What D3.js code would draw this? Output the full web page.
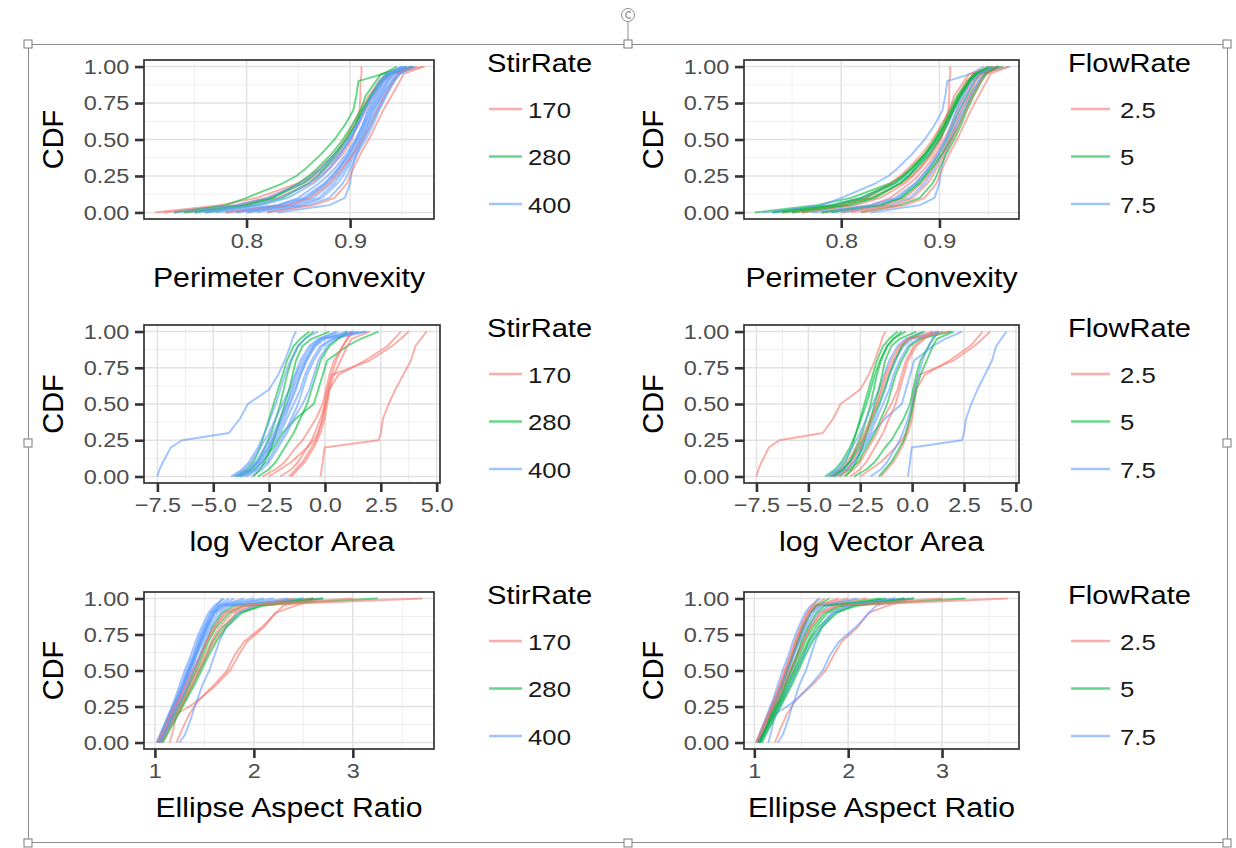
<!DOCTYPE html>
<html><head><meta charset="utf-8">
<script src="https://cdn.jsdelivr.net/npm/d3@7"></script>
<style>
body{margin:0;background:#fff}
text{font-family:"Liberation Sans",Arial,Helvetica,sans-serif}
</style>
</head><body>
<svg id="chart" width="1236" height="848"></svg>
<script>
// ---------------- data ----------------
const cdfLevels = [0, 0.05, 0.1, 0.2, 0.25, 0.3, 0.4, 0.5, 0.6, 0.7, 0.8, 0.9, 0.95, 1];
const stirRates = [170, 280, 400];
const flowRates = [2.5, 5, 7.5];
const stirLabels = ["170", "280", "400"];
const flowLabels = ["2.5", "5", "7.5"];
const groupColors = ["#F8766D", "#00BA38", "#619CFF"];

const yTicks = [0, 0.25, 0.5, 0.75, 1];
const yTickLabels = ["0.00", "0.25", "0.50", "0.75", "1.00"];
const yMinor = [0.125, 0.375, 0.625, 0.875];

const convexityTicks = [0.8, 0.9];
const convexityTickLabels = ["0.8", "0.9"];
const convexityMinor = [0.75, 0.85, 0.95];
const areaTicks = [-7.5, -5, -2.5, 0, 2.5, 5];
const areaTickLabels = ["\u22127.5", "\u22125.0", "\u22122.5", "0.0", "2.5", "5.0"];
const areaMinor = [-6.25, -3.75, -1.25, 1.25, 3.75];
const aspectTicks = [1, 2, 3];
const aspectTickLabels = ["1", "2", "3"];
const aspectMinor = [1.5, 2.5, 3.5];

// Perimeter Convexity: x value of each sample's CDF at cdfLevels
const convexityStir = [170,170,170,280,280,280,400,400,400,400,400,400,400,170,280,400,400,170,400,400,400];
const convexityFlow = [5,7.5,2.5,7.5,2.5,5,2.5,5,7.5,7.5,5,2.5,7.5,2.5,5,5,2.5,5,5,2.5,7.5];
const convexityQuantiles = [
  [0.712,0.775,0.81,0.85,0.862,0.87,0.885,0.895,0.903,0.91,0.918,0.928,0.935,0.965],
  [0.72,0.79,0.82,0.855,0.867,0.875,0.889,0.9,0.908,0.915,0.922,0.932,0.94,0.972],
  [0.74,0.80,0.83,0.862,0.872,0.88,0.893,0.902,0.906,0.909,0.91,0.91,0.911,0.911],
  [0.73,0.78,0.80,0.835,0.848,0.857,0.872,0.885,0.895,0.903,0.906,0.908,0.932,0.945],
  [0.75,0.80,0.825,0.85,0.86,0.868,0.882,0.893,0.902,0.91,0.915,0.925,0.93,0.955],
  [0.76,0.81,0.835,0.86,0.869,0.875,0.887,0.897,0.905,0.912,0.92,0.93,0.935,0.96],
  [0.78,0.83,0.85,0.87,0.878,0.885,0.896,0.905,0.912,0.918,0.925,0.933,0.94,0.955],
  [0.79,0.84,0.86,0.878,0.885,0.89,0.9,0.908,0.914,0.92,0.928,0.936,0.942,0.96],
  [0.80,0.85,0.87,0.885,0.89,0.895,0.903,0.91,0.917,0.923,0.93,0.94,0.945,0.962],
  [0.83,0.88,0.895,0.90,0.901,0.902,0.906,0.912,0.918,0.925,0.932,0.94,0.947,0.958],
  [0.82,0.86,0.88,0.893,0.897,0.90,0.907,0.915,0.922,0.928,0.935,0.943,0.948,0.96],
  [0.76,0.815,0.84,0.865,0.873,0.88,0.891,0.9,0.907,0.913,0.92,0.928,0.935,0.95],
  [0.77,0.83,0.855,0.875,0.882,0.888,0.898,0.906,0.912,0.917,0.924,0.932,0.938,0.952],
  [0.82,0.865,0.885,0.897,0.9,0.903,0.91,0.918,0.925,0.932,0.94,0.948,0.952,0.97],
  [0.74,0.795,0.825,0.855,0.864,0.872,0.885,0.896,0.905,0.912,0.92,0.93,0.938,0.96],
  [0.73,0.79,0.82,0.852,0.863,0.872,0.886,0.898,0.906,0.914,0.921,0.93,0.936,0.95],
  [0.80,0.845,0.865,0.882,0.888,0.893,0.902,0.91,0.916,0.922,0.93,0.937,0.943,0.958],
  [0.78,0.84,0.862,0.88,0.886,0.892,0.903,0.912,0.92,0.926,0.933,0.942,0.946,0.96],
  [0.75,0.805,0.832,0.86,0.869,0.877,0.89,0.9,0.908,0.914,0.922,0.931,0.937,0.953],
  [0.81,0.855,0.873,0.888,0.893,0.897,0.905,0.913,0.92,0.927,0.934,0.942,0.948,0.963],
  [0.79,0.835,0.858,0.876,0.883,0.889,0.899,0.907,0.914,0.92,0.927,0.935,0.94,0.955]
];

// log Vector Area
const areaStir = [400,170,170,170,280,280,280,400,400,400,400,400,400,170,170,280,400,170,400,280,400];
const areaFlow = [2.5,7.5,2.5,2.5,5,7.5,5,5,7.5,2.5,7.5,5,2.5,5,7.5,2.5,7.5,5,5,5,2.5];
const areaQuantiles = [
  [-7.5,-7.4,-7.25,-6.9,-6.4,-4.3,-3.8,-3.45,-2.5,-2.1,-1.8,-1.55,-1.45,-1.3],
  [-0.2,-0.15,-0.1,-0.02,2.4,2.5,2.6,2.85,3.15,3.5,3.85,4.05,4.3,4.55],
  [-1.5,-1.2,-0.9,-0.5,-0.35,-0.2,0.0,0.1,0.2,0.6,1.8,2.8,3.1,3.4],
  [-2.5,-2.0,-1.5,-0.8,-0.5,-0.3,-0.1,0.0,0.1,0.3,2.0,3.0,3.4,3.75],
  [-3.9,-3.3,-3.0,-2.7,-2.55,-2.4,-2.2,-2.0,-1.85,-1.7,-1.5,-1.2,-0.9,-0.5],
  [-3.8,-3.2,-2.8,-2.3,-2.1,-1.9,-1.3,-0.5,-0.3,-0.1,0.1,1.0,1.6,2.4],
  [-4.0,-3.5,-3.2,-2.9,-2.8,-2.7,-2.5,-2.3,-2.1,-1.9,-1.7,-1.4,-1.1,-0.7],
  [-4.2,-3.7,-3.4,-3.0,-2.85,-2.7,-2.45,-2.2,-2.0,-1.8,-1.55,-1.2,-0.9,-0.3],
  [-4.1,-3.6,-3.3,-2.9,-2.7,-2.5,-2.2,-1.9,-1.6,-1.35,-1.1,-0.7,-0.3,0.5],
  [-3.9,-3.4,-3.1,-2.7,-2.5,-2.3,-2.0,-1.7,-1.45,-1.2,-0.9,-0.5,-0.1,1.0],
  [-3.7,-3.1,-2.8,-2.4,-2.2,-2.0,-1.7,-1.4,-1.1,-0.9,-0.6,-0.2,0.3,1.5],
  [-3.5,-3.0,-2.6,-2.2,-2.0,-1.8,-1.5,-1.2,-1.0,-0.8,-0.5,-0.1,0.4,1.9],
  [-3.3,-2.8,-2.5,-2.1,-1.9,-1.7,-1.4,-1.0,-0.7,-0.5,-0.3,0.1,0.5,1.2],
  [-2.8,-2.2,-1.8,-1.3,-1.0,-0.8,-0.4,-0.1,0.05,0.2,0.4,0.8,1.0,1.3],
  [-2.0,-1.5,-1.2,-0.8,-0.6,-0.45,-0.2,0.0,0.15,0.3,0.5,0.8,1.0,1.2],
  [-3.0,-2.5,-2.2,-1.8,-1.6,-1.4,-1.1,-0.8,-0.6,-0.4,-0.2,0.2,0.6,1.0],
  [-4.0,-3.4,-3.0,-2.5,-2.3,-2.1,-1.8,-1.55,-1.3,-1.1,-0.85,-0.4,0.0,1.3],
  [-1.6,-1.3,-1.0,-0.6,-0.4,-0.3,-0.1,0.05,0.2,0.4,0.7,1.0,1.2,2.0],
  [-3.8,-3.3,-3.0,-2.6,-2.4,-2.2,-1.9,-1.6,-1.35,-1.1,-0.8,-0.5,-0.2,0.6],
  [-3.2,-2.9,-2.7,-2.4,-2.3,-2.2,-2.0,-1.8,-1.6,-1.45,-1.3,-1.0,-0.6,0.2],
  [-3.6,-3.1,-2.9,-2.5,-2.35,-2.2,-1.95,-1.7,-1.5,-1.3,-1.0,-0.6,-0.2,1.8]
];

// Ellipse Aspect Ratio
const aspectStir = [170,170,400,400,400,400,400,400,280,280,280,170,170,170,400,400,400,280,400,170,400];
const aspectFlow = [2.5,7.5,2.5,7.5,2.5,2.5,7.5,2.5,5,7.5,5,2.5,5,7.5,2.5,7.5,5,5,7.5,2.5,5];
const aspectQuantiles = [
  [1.22,1.25,1.28,1.35,1.4,1.45,1.62,1.76,1.84,1.93,2.1,2.22,2.42,2.65],
  [1.15,1.17,1.19,1.22,1.35,1.45,1.6,1.73,1.8,1.9,2.08,2.22,2.3,2.6],
  [1.03,1.06,1.09,1.15,1.18,1.21,1.27,1.32,1.38,1.43,1.49,1.56,1.62,1.68],
  [1.02,1.05,1.08,1.14,1.17,1.2,1.25,1.3,1.36,1.41,1.47,1.54,1.6,1.7],
  [1.05,1.08,1.11,1.17,1.2,1.23,1.29,1.34,1.4,1.45,1.51,1.58,1.63,1.75],
  [1.04,1.07,1.1,1.16,1.19,1.22,1.28,1.33,1.39,1.44,1.5,1.57,1.65,2.0],
  [1.06,1.09,1.12,1.18,1.21,1.25,1.31,1.37,1.42,1.48,1.55,1.63,1.72,2.7],
  [1.03,1.07,1.1,1.17,1.2,1.24,1.3,1.36,1.41,1.47,1.53,1.6,1.68,2.2],
  [1.05,1.09,1.13,1.2,1.24,1.28,1.35,1.42,1.48,1.54,1.62,1.75,1.9,3.25],
  [1.04,1.08,1.12,1.19,1.23,1.27,1.34,1.4,1.46,1.52,1.58,1.68,1.8,2.5],
  [1.06,1.1,1.14,1.22,1.26,1.3,1.38,1.45,1.52,1.58,1.68,1.85,2.1,2.7],
  [1.03,1.07,1.11,1.18,1.22,1.26,1.33,1.4,1.46,1.52,1.6,1.72,1.9,3.7],
  [1.05,1.09,1.13,1.21,1.25,1.29,1.36,1.43,1.5,1.57,1.65,1.78,1.95,2.4],
  [1.07,1.11,1.15,1.23,1.27,1.31,1.38,1.45,1.52,1.6,1.7,1.82,2.0,2.6],
  [1.02,1.05,1.08,1.15,1.18,1.22,1.28,1.34,1.4,1.46,1.52,1.6,1.66,1.9],
  [1.25,1.3,1.33,1.38,1.4,1.43,1.48,1.55,1.6,1.65,1.72,1.85,2.0,2.5],
  [1.04,1.08,1.12,1.18,1.21,1.24,1.3,1.35,1.41,1.46,1.52,1.6,1.66,1.8],
  [1.08,1.12,1.16,1.24,1.28,1.32,1.4,1.47,1.54,1.62,1.72,1.88,2.05,2.6],
  [1.02,1.06,1.09,1.16,1.19,1.23,1.29,1.35,1.41,1.47,1.53,1.6,1.7,2.1],
  [1.02,1.06,1.1,1.16,1.2,1.24,1.31,1.38,1.45,1.52,1.6,1.7,1.85,3.0],
  [1.05,1.09,1.13,1.2,1.23,1.27,1.33,1.39,1.45,1.5,1.57,1.66,1.75,2.35]
];

// ---------------- layout ----------------
const svg = d3.select("#chart");
svg.append("rect").attr("width",1236).attr("height",848).attr("fill","#fff");
const SX = 1.12; // horizontal text stretch of the picture

const rows = [
  {y0:60, y1:219, xl:[144,434], xr:[744,1019], domain:[0.701,0.981], ticks:convexityTicks, tickLabels:convexityTickLabels, minor:convexityMinor, title:"Perimeter Convexity", q:convexityQuantiles, stir:convexityStir, flow:convexityFlow},
  {y0:325, y1:483, xl:[144,440], xr:[744,1019], domain:[-8.1,5.15], ticks:areaTicks, tickLabels:areaTickLabels, minor:areaMinor, title:"log Vector Area", q:areaQuantiles, stir:areaStir, flow:areaFlow},
  {y0:592, y1:749, xl:[144,434], xr:[744,1019], domain:[0.89,3.82], ticks:aspectTicks, tickLabels:aspectTickLabels, minor:aspectMinor, title:"Ellipse Aspect Ratio", q:aspectQuantiles, stir:aspectStir, flow:aspectFlow}
];

let clipId = 0;
function drawPanel(row, xr, groups, levels, legendTitle, legendLabels, legendX, keyX0, keyX1, labelX) {
  const x = d3.scaleLinear().domain(row.domain).range(xr);
  const y = d3.scaleLinear().domain([-0.045, 1.045]).range([row.y1, row.y0]);
  const g = svg.append("g");
  g.append("rect").attr("x",xr[0]).attr("y",row.y0).attr("width",xr[1]-xr[0]).attr("height",row.y1-row.y0).attr("fill","#fff");
  // grids
  g.selectAll(null).data(row.minor).enter().append("line")
    .attr("x1",d=>x(d)).attr("x2",d=>x(d)).attr("y1",row.y0).attr("y2",row.y1)
    .attr("stroke","#efefef").attr("stroke-width",1);
  g.selectAll(null).data(yMinor).enter().append("line")
    .attr("y1",d=>y(d)).attr("y2",d=>y(d)).attr("x1",xr[0]).attr("x2",xr[1])
    .attr("stroke","#efefef").attr("stroke-width",1);
  g.selectAll(null).data(row.ticks).enter().append("line")
    .attr("x1",d=>x(d)).attr("x2",d=>x(d)).attr("y1",row.y0).attr("y2",row.y1)
    .attr("stroke","#e2e2e2").attr("stroke-width",1.5);
  g.selectAll(null).data(yTicks).enter().append("line")
    .attr("y1",d=>y(d)).attr("y2",d=>y(d)).attr("x1",xr[0]).attr("x2",xr[1])
    .attr("stroke","#e2e2e2").attr("stroke-width",1.5);
  // lines
  const id = "clip" + (clipId++);
  svg.append("clipPath").attr("id",id).append("rect")
    .attr("x",xr[0]).attr("y",row.y0).attr("width",xr[1]-xr[0]).attr("height",row.y1-row.y0);
  const line = d3.line().x(d=>x(d[0])).y(d=>y(d[1]));
  const lg = g.append("g").attr("clip-path",`url(#${id})`);
  row.q.forEach((qs,i)=>{
    const pts = qs.map((v,j)=>[v, cdfLevels[j]]);
    lg.append("path").attr("d",line(pts)).attr("fill","none")
      .attr("stroke",groupColors[levels.indexOf(groups[i])])
      .attr("stroke-width",1.9).attr("stroke-opacity",0.6).attr("stroke-linejoin","round");
  });
  // border
  g.append("rect").attr("x",xr[0]).attr("y",row.y0).attr("width",xr[1]-xr[0]).attr("height",row.y1-row.y0)
    .attr("fill","none").attr("stroke","#333").attr("stroke-width",1.7);
  // axes
  const ax = g.append("g").attr("transform",`translate(0,${row.y1})`)
    .call(d3.axisBottom(x).tickValues(row.ticks).tickFormat((d,i)=>row.tickLabels[i]).tickSize(9).tickPadding(5));
  const ay = g.append("g").attr("transform",`translate(${xr[0]},0)`)
    .call(d3.axisLeft(y).tickValues(yTicks).tickFormat((d,i)=>yTickLabels[i]).tickSize(9).tickPadding(4));
  [ax,ay].forEach(a=>{
    a.select(".domain").remove();
    a.selectAll(".tick line").attr("stroke","#333").attr("stroke-width",2.6);
    a.selectAll(".tick text").attr("fill","#4d4d4d").attr("font-size",21)
      .attr("font-family","Liberation Sans, Arial, sans-serif").attr("transform",`scale(${SX},1)`);
  });
  // titles
  g.append("text").attr("transform",`translate(${(xr[0]+xr[1])/2},${row.y1+68}) scale(${SX},1)`)
    .attr("text-anchor","middle").attr("font-size",27).attr("fill","#000").text(row.title);
  g.append("text").attr("transform",`translate(${xr[0]-81},${(row.y0+row.y1)/2}) rotate(-90)`)
    .attr("text-anchor","middle").attr("font-size",29).attr("fill","#000").text("CDF");
  // legend
  g.append("text").attr("transform",`translate(${legendX},${row.y0+12}) scale(${SX},1)`)
    .attr("font-size",26).attr("fill","#000").text(legendTitle);
  legendLabels.forEach((lab,i)=>{
    const ly = row.y0 + 49 + i*47.5;
    g.append("line").attr("x1",keyX0).attr("x2",keyX1).attr("y1",ly).attr("y2",ly)
      .attr("stroke",groupColors[i]).attr("stroke-width",2.6).attr("stroke-opacity",0.6);
    g.append("text").attr("transform",`translate(${labelX},${ly+8.5}) scale(${SX},1)`)
      .attr("font-size",23).attr("fill","#1a1a1a").text(lab);
  });
}

rows.forEach(r=>{
  drawPanel(r, r.xl, r.stir, stirRates, "StirRate", stirLabels, 487, 489, 522, 528);
  drawPanel(r, r.xr, r.flow, flowRates, "FlowRate", flowLabels, 1068, 1071, 1110, 1120);
});

// ---------------- selection frame of the embedded picture ----------------
const fr = svg.append("g").attr("stroke","#8c8c8c").attr("fill","none");
fr.append("rect").attr("x",28.5).attr("y",44.5).attr("width",1199).attr("height",798).attr("stroke-width",1);
fr.append("line").attr("x1",628).attr("x2",628).attr("y1",21).attr("y2",40).attr("stroke-width",1);
fr.append("circle").attr("cx",628).attr("cy",15).attr("r",6.5).attr("fill","#fff").attr("stroke-width",1);
fr.append("path").attr("d","M631,12.5 A3.2,3.2 0 1 0 631,17.5").attr("stroke-width",1.1);
[[28,44],[628,44],[1227,44],[28,443],[1227,443],[28,843],[628,843],[1227,843]].forEach(([hx,hy])=>{
  fr.append("rect").attr("x",hx-4).attr("y",hy-4).attr("width",8).attr("height",8)
    .attr("fill","#fff").attr("stroke","#7a7a7a").attr("stroke-width",1);
});
</script>
</body></html>
